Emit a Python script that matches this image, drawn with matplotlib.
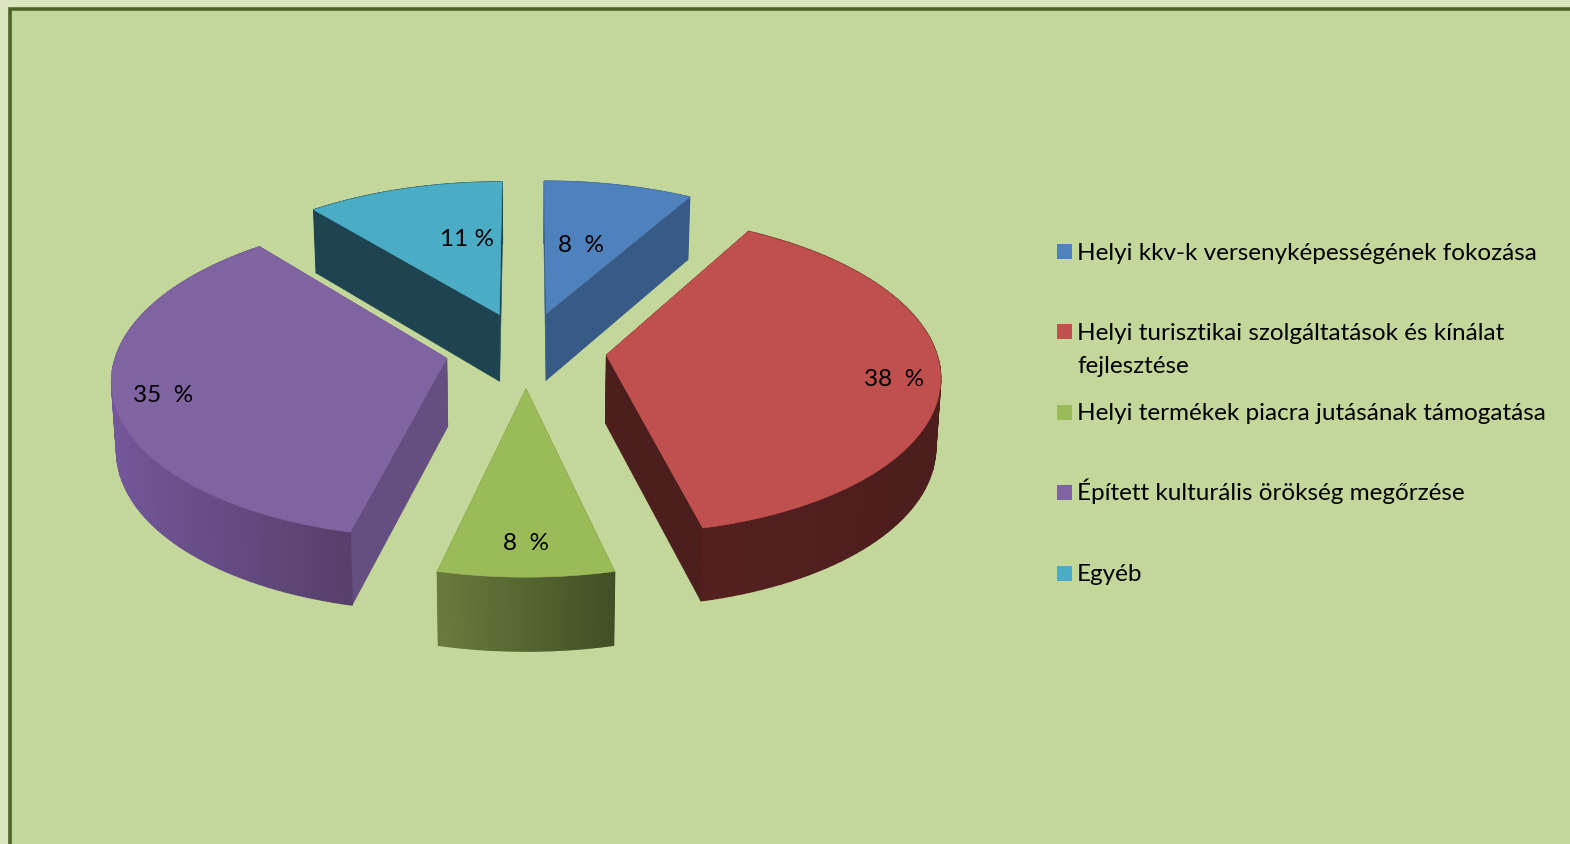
#!/usr/bin/env python
# -*- coding: utf-8 -*-

import numpy as np
import matplotlib
matplotlib.use('Agg')
from matplotlib import pyplot as plt
from matplotlib.patches import Polygon, Rectangle

# chart data (shares, labels are the rounded ones)
categories = ['Helyi kkv-k versenyképességének fokozása',
              'Helyi turisztikai szolgáltatások és kínálat\nfejlesztése',
              'Helyi termékek piacra jutásának támogatása',
              'Épített kulturális örökség megőrzése',
              'Egyéb']
values = [8.3, 38, 7.4, 35.3, 11]
value_labels = ['8  %', '38  %', '8  %', '35  %', '11 %']

# styles
top_colors = ['#4F81BD', '#C0504D', '#9BBB59', '#8064A2', '#4BACC6']
side_colors = ['#375A87', '#4C1E1E', '#5E7136', '#654E80', '#1D4450']
wall_left = ['#375A87', '#541F1F', '#697C3C', '#73579A', '#1D4450']
wall_right = ['#375A87', '#4C1E1E', '#414F25', '#57406B', '#1D4450']
label_pos = [(581, 245), (894, 380), (526, 544), (163, 396), (467, 240)]
legend_y = [252.5, 332.5, 413, 493, 574]
draw_order = [0, 4, 1, 3, 2]

cx, cy = 526.0, 350.5
radius = 329.5
flatten = 156.0
persp = 0.118
explode = 0.245
depth = 68.0


def project(u, v, down=0.0):
    s = 1.0 / (1.0 - persp * v)
    x = cx + radius * u * s * (1.0 - 0.012 * down)
    y = cy + flatten * v * s + down * depth * (1.0 + 0.07 * v)
    return x, y


def mix(c1, c2, t):
    a = np.array(matplotlib.colors.to_rgb(c1))
    b = np.array(matplotlib.colors.to_rgb(c2))
    return tuple(a + (b - a) * t)


fig = plt.figure(figsize=(15.7, 8.45), dpi=100, facecolor='#DDE5BF')
ax = fig.add_axes([0, 0, 1, 1])
ax.set_xlim(0, 1570)
ax.set_ylim(845, 0)
ax.axis('off')

ax.add_patch(Rectangle((9.7, 9.7), 1700, 1000, facecolor='#C4D79B',
                       edgecolor='#4F6228', linewidth=2.6))

edges = np.concatenate([[0], np.cumsum(values)]) / float(sum(values)) * 2 * np.pi

for i in draw_order:
    a1, a2 = edges[i], edges[i + 1]
    mid = (a1 + a2) / 2
    ou, ov = explode * np.sin(mid), -explode * np.cos(mid)
    t = np.linspace(a1, a2, 80)
    u = ou + np.sin(t)
    v = ov - np.cos(t)

    # cut faces
    for a in (a1, a2):
        eu, ev = ou + np.sin(a), ov - np.cos(a)
        n = np.linspace(0, 1, 2)
        xt, yt = project(ou + (eu - ou) * n, ov + (ev - ov) * n)
        xb, yb = project(ou + (eu - ou) * n, ov + (ev - ov) * n, 1.0)
        pts = np.column_stack([np.r_[xt, xb[::-1]], np.r_[yt, yb[::-1]]])
        ax.add_patch(Polygon(pts, facecolor=side_colors[i],
                             edgecolor=side_colors[i], linewidth=0.4))

    # outer wall, shaded left to right in small pieces
    xt, yt = project(u, v)
    xb, yb = project(u, v, 1.0)
    for k in range(len(t) - 1):
        f = (xt[k] - xt.min()) / (xt.max() - xt.min())
        col = mix(wall_left[i], wall_right[i], f)
        pts = [(xt[k], yt[k]), (xt[k + 1], yt[k + 1]),
               (xb[k + 1], yb[k + 1]), (xb[k], yb[k])]
        ax.add_patch(Polygon(pts, facecolor=col, edgecolor=col, linewidth=1.0))

    # top surface
    ax_, ay_ = project(ou, ov)
    pts = np.column_stack([np.r_[ax_, xt], np.r_[ay_, yt]])
    ax.add_patch(Polygon(pts, facecolor=top_colors[i],
                         edgecolor=top_colors[i], linewidth=0.4))

for lab, (x, y) in zip(value_labels, label_pos):
    ax.text(x, y, lab, ha='center', va='center', fontsize=17.5,
            family='Lato', color='black')

for cat, col, y in zip(categories, top_colors, legend_y):
    ax.add_patch(Rectangle((1056.5, y - 7.5), 15, 15, facecolor=col, edgecolor='none'))
    for j, line in enumerate(cat.split('\n')):
        ax.text(1077, y + 7.5 + j * 33, line, ha='left', va='baseline', fontsize=17.5,
                family='Lato', color='black')

fig.savefig('out.png', dpi=100, facecolor=fig.get_facecolor())
